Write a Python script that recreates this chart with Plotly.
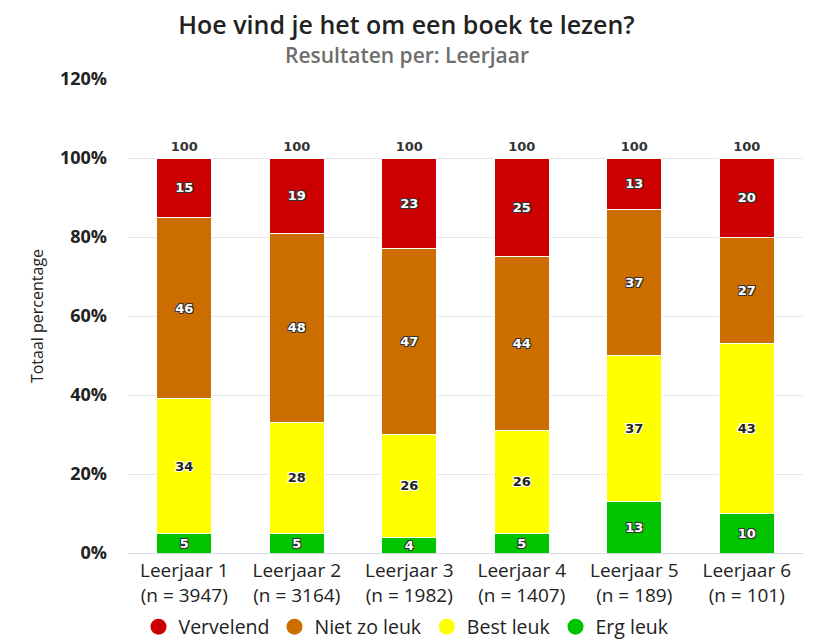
import plotly.graph_objects as go

categories = ["Leerjaar 1<br>(n = 3947)", "Leerjaar 2<br>(n = 3164)", "Leerjaar 3<br>(n = 1982)",
              "Leerjaar 4<br>(n = 1407)", "Leerjaar 5<br>(n = 189)", "Leerjaar 6<br>(n = 101)"]
erg_leuk = [5, 5, 4, 5, 13, 10]
best_leuk = [34, 28, 26, 26, 37, 43]
niet_zo_leuk = [46, 48, 47, 44, 37, 27]
vervelend = [15, 19, 23, 25, 13, 20]
totals = [100, 100, 100, 100, 100, 100]

series = [
    ("Erg leuk", erg_leuk, "#00c400", "white"),
    ("Best leuk", best_leuk, "#ffff00", "#222222"),
    ("Niet zo leuk", niet_zo_leuk, "#cc6d00", "white"),
    ("Vervelend", vervelend, "#cc0000", "white"),
]

FONT = "Open Sans"
W, H = 805, 633          # page adds an 8px body margin
L, R, T, B = 120, 10, 71, 88
PW, PH = W - L - R, H - T - B

fig = go.Figure()
for name, vals, col, tcol in series:
    shadow = "-1px -1px 0 #333, 1px -1px 0 #333, -1px 1px 0 #333, 1px 1px 0 #333" if tcol == "white" \
        else "-1px -1px 0 #fff, 1px -1px 0 #fff, -1px 1px 0 #fff, 1px 1px 0 #fff"
    fig.add_trace(go.Bar(
        x=categories, y=vals, name=name, marker=dict(color=col, line=dict(color="white", width=1)),
        text=[str(v) for v in vals], textposition="inside", insidetextanchor="middle",
        textangle=0, constraintext="none",
        textfont=dict(family="DejaVu Sans", size=13, color=tcol, weight="bold", shadow=shadow),
        width=0.49, showlegend=False, hoverinfo="skip",
    ))

fig.add_trace(go.Scatter(
    x=categories, y=totals, mode="markers+text", text=[str(t) for t in totals],
    marker=dict(size=4, color="rgba(0,0,0,0)"),
    textposition="top center", textfont=dict(family="DejaVu Sans", size=13, color="#333333", weight="bold"),
    showlegend=False, cliponaxis=False, hoverinfo="skip",
))

# legend entries with circle markers
for name, vals, col, tcol in reversed(series):
    fig.add_trace(go.Scatter(
        x=[None], y=[None], mode="markers", name=name,
        marker=dict(color=col, size=16, symbol="circle"), showlegend=True,
    ))

cx = 398.5
fig.update_layout(
    barmode="stack",
    width=W, height=H,
    margin=dict(l=L, r=R, t=T, b=B),
    paper_bgcolor="white", plot_bgcolor="white",
    font=dict(family=FONT, color="#222222"),
    uniformtext=dict(minsize=13, mode="show"),
    title=dict(text="Hoe vind je het om een boek te lezen?", x=cx / W, xref="container",
               xanchor="center", y=1 - 17 / H, yanchor="middle", yref="container",
               font=dict(family=FONT, size=25, color="#222222", weight=600)),
    annotations=[dict(text="Resultaten per: Leerjaar", xref="paper", yref="paper",
                      x=(cx - L) / PW, y=1 + (T - 47) / PH, xanchor="center", yanchor="middle",
                      showarrow=False, font=dict(family=FONT, size=21, color="#6e6e6e", weight=600))],
    legend=dict(orientation="h", x=cx / W, xref="container", xanchor="center",
                y=1 - 619 / H, yref="container", yanchor="middle",
                font=dict(family=FONT, size=19.5, color="#222222"), itemsizing="trace",
                traceorder="normal", tracegroupgap=0),
    bargap=0.51,
)
fig.update_yaxes(range=[0, 120], dtick=20, ticksuffix="%", showgrid=True, gridcolor="#e8e8e8",
                 zeroline=False, ticks="", ticklabelstandoff=20, automargin=False,
                 tickfont=dict(family=FONT, size=18, color="#222222", weight="bold"),
                 title=dict(text="Totaal percentage", font=dict(family=FONT, size=16, color="#222222"),
                            standoff=12))
fig.update_xaxes(range=[-0.5, 5.5], showline=True, linecolor="#d6dbe6", linewidth=1, showgrid=False,
                 automargin=False, tickfont=dict(family=FONT, size=19, color="#222222"))

fig.write_html("out.html")
